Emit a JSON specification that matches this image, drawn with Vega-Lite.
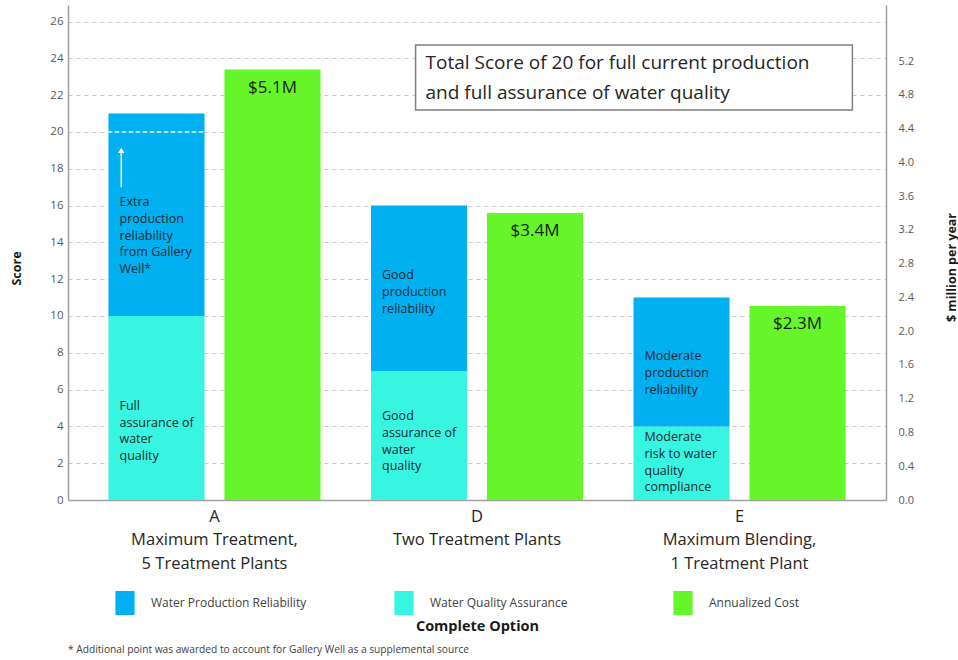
{
  "$schema": "https://vega.github.io/schema/vega-lite/v6.json",
  "width": 818,
  "height": 495,
  "autosize": "none",
  "padding": {"left": 68, "top": 5, "right": 72, "bottom": 160},
  "background": "white",
  "config": {
    "font": "Open Sans",
    "view": {"stroke": null},
    "title": {"font": "Open Sans"}
  },
  "title": {
    "text": "* Additional point was awarded to account for Gallery Well as a supplemental source",
    "orient": "bottom",
    "anchor": "start",
    "frame": "group",
    "fontSize": 10.2,
    "fontWeight": "normal",
    "color": "#404040",
    "offset": 12
  },
  "datasets": {
    "scores": [
      {"option": "A\nMaximum Treatment,\n5 Treatment Plants", "group": "Score", "series": "Water Quality Assurance", "score": 10},
      {"option": "A\nMaximum Treatment,\n5 Treatment Plants", "group": "Score", "series": "Water Production Reliability", "score": 11},
      {"option": "D\nTwo Treatment Plants", "group": "Score", "series": "Water Quality Assurance", "score": 7},
      {"option": "D\nTwo Treatment Plants", "group": "Score", "series": "Water Production Reliability", "score": 9},
      {"option": "E\nMaximum Blending,\n1 Treatment Plant", "group": "Score", "series": "Water Quality Assurance", "score": 4},
      {"option": "E\nMaximum Blending,\n1 Treatment Plant", "group": "Score", "series": "Water Production Reliability", "score": 7}
    ],
    "costs": [
      {"option": "A\nMaximum Treatment,\n5 Treatment Plants", "group": "Cost", "series": "Annualized Cost", "cost": 5.1, "label": "$5.1M"},
      {"option": "D\nTwo Treatment Plants", "group": "Cost", "series": "Annualized Cost", "cost": 3.4, "label": "$3.4M"},
      {"option": "E\nMaximum Blending,\n1 Treatment Plant", "group": "Cost", "series": "Annualized Cost", "cost": 2.3, "label": "$2.3M"}
    ],
    "notes": [
      {"option": "A\nMaximum Treatment,\n5 Treatment Plants", "group": "Score", "at": 16.5, "note": "Extra\nproduction\nreliability\nfrom Gallery\nWell*"},
      {"option": "A\nMaximum Treatment,\n5 Treatment Plants", "group": "Score", "at": 5.43, "note": "Full\nassurance of\nwater\nquality"},
      {"option": "D\nTwo Treatment Plants", "group": "Score", "at": 12.53, "note": "Good\nproduction\nreliability"},
      {"option": "D\nTwo Treatment Plants", "group": "Score", "at": 4.88, "note": "Good\nassurance of\nwater\nquality"},
      {"option": "E\nMaximum Blending,\n1 Treatment Plant", "group": "Score", "at": 8.14, "note": "Moderate\nproduction\nreliability"},
      {"option": "E\nMaximum Blending,\n1 Treatment Plant", "group": "Score", "at": 3.74, "note": "Moderate\nrisk to water\nquality\ncompliance"}
    ],
    "fullScore": [
      {"option": "A\nMaximum Treatment,\n5 Treatment Plants", "group": "Score", "target": 20}
    ]
  },
  "layer": [
    {
      "layer": [
        {
          "layer": [
            {
              "data": {"name": "scores"},
              "mark": {"type": "bar"},
              "encoding": {
                "x": {
                  "field": "option",
                  "type": "nominal",
                  "scale": {
                    "domain": ["A\nMaximum Treatment,\n5 Treatment Plants", "D\nTwo Treatment Plants", "E\nMaximum Blending,\n1 Treatment Plant"],
                    "paddingInner": 0,
                    "paddingOuter": 0.058
                  },
                  "axis": {
                    "orient": "bottom",
                    "labelExpr": "split(datum.label, '\\n')",
                    "labelAngle": 0,
                    "labelFontSize": 16.5,
                    "labelLineHeight": 23.5,
                    "labelColor": "#262626",
                    "labelPadding": 8,
                    "labelLimit": 400,
                    "labelOverlap": false,
                    "labelBound": false,
                    "ticks": false,
                    "domainColor": "#a0a0a0",
                    "domainWidth": 1.5,
                    "title": "Complete Option",
                    "titleFontSize": 14.5,
                    "titleFontWeight": "bold",
                    "titleColor": "#1a1a1a",
                    "titleX": 409,
                    "titleY": 126,
                    "titleAlign": "center",
                    "titleBaseline": "middle"
                  }
                },
                "xOffset": {
                  "field": "group",
                  "type": "nominal",
                  "scale": {"domain": ["Score", "Cost"], "paddingInner": 0.172, "paddingOuter": 0.2175}
                },
                "y": {
                  "field": "score",
                  "type": "quantitative",
                  "stack": "zero",
                  "scale": {"domain": [0, 26.9], "nice": false},
                  "axis": {
                    "orient": "left",
                    "values": [0, 2, 4, 6, 8, 10, 12, 14, 16, 18, 20, 22, 24, 26],
                    "tickCount": 14,
                    "labelOverlap": false,
                    "grid": true,
                    "gridColor": "#c8c8c8",
                    "gridDash": [4, 4],
                    "gridWidth": 1,
                    "ticks": false,
                    "domainColor": "#a0a0a0",
                    "domainWidth": 1.5,
                    "labelFontSize": 11.5,
                    "labelColor": "#595959",
                    "labelPadding": 5,
                    "title": "Score",
                    "titleFontSize": 12.5,
                    "titleFontWeight": "bold",
                    "titleColor": "#1a1a1a",
                    "titleX": -52,
                    "titleY": 263,
                    "titleAlign": "center",
                    "titleBaseline": "middle",
                    "titleAngle": 270
                  }
                },
                "color": {
                  "field": "series",
                  "type": "nominal",
                  "scale": {
                    "domain": ["Water Production Reliability", "Water Quality Assurance", "Annualized Cost"],
                    "range": ["#00b0f0", "#38f5e1", "#66f52a"]
                  },
                  "legend": {
                    "orient": "none",
                    "legendX": 45,
                    "legendY": 586,
                    "direction": "horizontal",
                    "columns": 3,
                    "gridAlign": "all",
                    "columnPadding": 85,
                    "title": null,
                    "symbolType": "M-0.8,-1H0.8V1H-0.8Z",
                    "symbolSize": 576,
                    "symbolStrokeWidth": 0,
                    "labelFontSize": 12,
                    "labelColor": "#404040",
                    "labelOffset": 14,
                    "labelLimit": 300
                  }
                },
                "order": {"field": "series", "sort": "descending"}
              }
            },
            {
              "data": {"name": "fullScore"},
              "mark": {"type": "bar", "filled": false, "stroke": "white", "strokeWidth": 1, "strokeDash": [4, 3]},
              "encoding": {
                "x": {"field": "option", "type": "nominal"},
                "xOffset": {"field": "group", "type": "nominal"},
                "y": {
                  "field": "target",
                  "type": "quantitative",
                  "axis": {
                    "orient": "left",
                    "values": [0, 2, 4, 6, 8, 10, 12, 14, 16, 18, 20, 22, 24, 26],
                    "tickCount": 14,
                    "labelOverlap": false,
                    "grid": true,
                    "gridColor": "#c8c8c8",
                    "gridDash": [4, 4],
                    "gridWidth": 1,
                    "ticks": false,
                    "domainColor": "#a0a0a0",
                    "domainWidth": 1.5,
                    "labelFontSize": 11.5,
                    "labelColor": "#595959",
                    "labelPadding": 5,
                    "title": "Score",
                    "titleFontSize": 12.5,
                    "titleFontWeight": "bold",
                    "titleColor": "#1a1a1a",
                    "titleX": -52,
                    "titleY": 263,
                    "titleAlign": "center",
                    "titleBaseline": "middle",
                    "titleAngle": 270
                  }
                },
                "y2": {"field": "target"}
              }
            },
            {
              "data": {"name": "notes"},
              "mark": {
                "type": "text",
                "align": "left",
                "baseline": "top",
                "dx": -37,
                "lineBreak": "\n",
                "fontSize": 12.5,
                "lineHeight": 16.7,
                "color": "#1c2a33"
              },
              "encoding": {
                "x": {"field": "option", "type": "nominal"},
                "xOffset": {"field": "group", "type": "nominal"},
                "y": {
                  "field": "at",
                  "type": "quantitative",
                  "axis": {
                    "orient": "left",
                    "values": [0, 2, 4, 6, 8, 10, 12, 14, 16, 18, 20, 22, 24, 26],
                    "tickCount": 14,
                    "labelOverlap": false,
                    "grid": true,
                    "gridColor": "#c8c8c8",
                    "gridDash": [4, 4],
                    "gridWidth": 1,
                    "ticks": false,
                    "domainColor": "#a0a0a0",
                    "domainWidth": 1.5,
                    "labelFontSize": 11.5,
                    "labelColor": "#595959",
                    "labelPadding": 5,
                    "title": "Score",
                    "titleFontSize": 12.5,
                    "titleFontWeight": "bold",
                    "titleColor": "#1a1a1a",
                    "titleX": -52,
                    "titleY": 263,
                    "titleAlign": "center",
                    "titleBaseline": "middle",
                    "titleAngle": 270
                  }
                },
                "text": {"field": "note", "type": "nominal"}
              }
            }
          ]
        },
        {
          "layer": [
            {
              "data": {"name": "costs"},
              "mark": {"type": "bar"},
              "encoding": {
                "x": {"field": "option", "type": "nominal"},
                "xOffset": {"field": "group", "type": "nominal"},
                "y": {
                  "field": "cost",
                  "type": "quantitative",
                  "scale": {"domain": [0, 5.865], "nice": false},
                  "axis": {
                    "orient": "right",
                    "values": [0, 0.4, 0.8, 1.2, 1.6, 2, 2.4, 2.8, 3.2, 3.6, 4, 4.4, 4.8, 5.2],
                    "tickCount": 14,
                    "labelOverlap": false,
                    "format": ".1f",
                    "grid": false,
                    "ticks": false,
                    "domainColor": "#a0a0a0",
                    "domainWidth": 1.5,
                    "labelFontSize": 11,
                    "labelColor": "#595959",
                    "labelPadding": 12,
                    "title": "$ million per year",
                    "titleFontSize": 12.5,
                    "titleFontWeight": "bold",
                    "titleColor": "#1a1a1a",
                    "titleX": 65,
                    "titleY": 262,
                    "titleAlign": "center",
                    "titleBaseline": "middle",
                    "titleAngle": 270
                  }
                },
                "color": {"field": "series", "type": "nominal"}
              }
            },
            {
              "data": {"name": "costs"},
              "mark": {"type": "text", "baseline": "middle", "dy": 18, "fontSize": 17, "color": "#1a1a1a"},
              "encoding": {
                "x": {"field": "option", "type": "nominal"},
                "xOffset": {"field": "group", "type": "nominal"},
                "y": {
                  "field": "cost",
                  "type": "quantitative",
                  "axis": {
                    "orient": "right",
                    "values": [0, 0.4, 0.8, 1.2, 1.6, 2, 2.4, 2.8, 3.2, 3.6, 4, 4.4, 4.8, 5.2],
                    "tickCount": 14,
                    "labelOverlap": false,
                    "format": ".1f",
                    "grid": false,
                    "ticks": false,
                    "domainColor": "#a0a0a0",
                    "domainWidth": 1.5,
                    "labelFontSize": 11,
                    "labelColor": "#595959",
                    "labelPadding": 12,
                    "title": "$ million per year",
                    "titleFontSize": 12.5,
                    "titleFontWeight": "bold",
                    "titleColor": "#1a1a1a",
                    "titleX": 65,
                    "titleY": 262,
                    "titleAlign": "center",
                    "titleBaseline": "middle",
                    "titleAngle": 270
                  }
                },
                "text": {"field": "label", "type": "nominal"}
              }
            }
          ]
        }
      ],
      "resolve": {"scale": {"y": "independent"}, "axis": {"y": "independent"}}
    },
    {
      "data": {"values": [{}]},
      "layer": [
        {
          "mark": {"type": "rect", "fill": "white", "stroke": "#808080", "strokeWidth": 1.5},
          "encoding": {
            "x": {"datum": 1.766, "type": "quantitative", "scale": {"domain": [0.442, 3.558], "nice": false, "zero": false}, "axis": null},
            "x2": {"datum": 3.43},
            "y": {"datum": 24.73, "type": "quantitative", "scale": {"domain": [0, 26.9], "nice": false}, "axis": null},
            "y2": {"datum": 21.2}
          }
        },
        {
          "mark": {"type": "text", "align": "left", "baseline": "middle", "lineBreak": "\n", "fontSize": 19, "lineHeight": 30, "color": "#262626"},
          "encoding": {
            "x": {"datum": 1.804, "type": "quantitative"},
            "y": {"datum": 23.75, "type": "quantitative"},
            "text": {"value": "Total Score of 20 for full current production\nand full assurance of water quality"}
          }
        },
        {
          "mark": {"type": "rule", "color": "white", "strokeWidth": 1.5},
          "encoding": {
            "x": {"datum": 0.645, "type": "quantitative"},
            "y": {"datum": 17.0, "type": "quantitative"},
            "y2": {"datum": 18.9}
          }
        },
        {
          "mark": {"type": "point", "shape": "triangle-up", "filled": true, "color": "white", "opacity": 1, "size": 40},
          "encoding": {
            "x": {"datum": 0.645, "type": "quantitative"},
            "y": {"datum": 19.0, "type": "quantitative"}
          }
        }
      ]
    }
  ],
  "resolve": {"scale": {"x": "independent", "y": "independent"}, "axis": {"x": "independent", "y": "independent"}}
}
